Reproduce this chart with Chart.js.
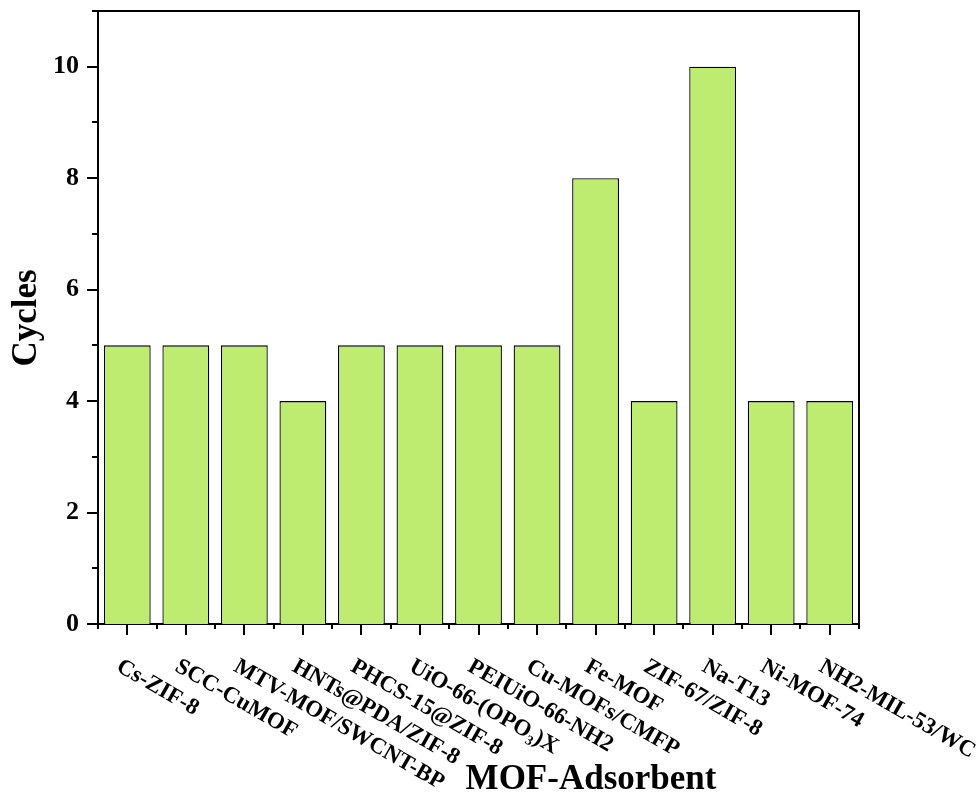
<!DOCTYPE html>
<html>
<head>
<meta charset="utf-8">
<script src="https://cdn.jsdelivr.net/npm/chart.js@4.4.0/dist/chart.umd.min.js"></script>
<style>
html,body{margin:0;padding:0;background:#fff;}
#wrap{width:978px;height:802px;}
</style>
</head>
<body>
<div id="wrap"><canvas id="c" width="978" height="802"></canvas></div>
<script>
const categories = ["Cs-ZIF-8","SCC-CuMOF","MTV-MOF/SWCNT-BP","HNTs@PDA/ZIF-8","PHCS-15@ZIF-8","UiO-66-(OPO\u2083)X","PEIUiO-66-NH2","Cu-MOFs/CMFP","Fe-MOF","ZIF-67/ZIF-8","Na-T13","Ni-MOF-74","NH2-MIL-53/WC"];
const cycles = [5,5,5,4,5,5,5,5,8,4,10,4,4];
const yTickLabels = ["0","2","4","6","8","10"];
const xTitle = "MOF-Adsorbent";
const yTitle = "Cycles";

const FONT = "'Liberation Serif','Times New Roman',serif";

const customPlugin = {
  id: 'custom',
  afterDraw(chart) {
    const ctx = chart.ctx;
    const a = chart.chartArea;
    const xs = chart.scales.x, ys = chart.scales.y;
    ctx.save();
    ctx.strokeStyle = '#000';
    ctx.fillStyle = '#000';
    // frame top & right
    ctx.lineWidth = 2;
    ctx.beginPath();
    ctx.moveTo(a.left - 1, a.top);
    ctx.lineTo(a.right, a.top);
    ctx.lineTo(a.right, a.bottom);
    ctx.stroke();
    // y ticks
    for (let v = ys.min; v <= ys.max; v++) {
      const y = Math.round(ys.getPixelForValue(v));
      const len = (v % 2 === 0) ? 11 : 6;
      ctx.beginPath();
      ctx.moveTo(a.left - len, y);
      ctx.lineTo(a.left, y);
      ctx.stroke();
    }
    // x ticks
    const n = categories.length;
    const step = (a.right - a.left) / n;
    for (let i = 0; i <= n; i++) {
      const x = Math.round(a.left + i * step);
      ctx.beginPath();
      ctx.moveTo(x, a.bottom);
      ctx.lineTo(x, a.bottom + 5);
      ctx.stroke();
    }
    for (let i = 0; i < n; i++) {
      const x = Math.round(xs.getPixelForValue(i));
      ctx.beginPath();
      ctx.moveTo(x, a.bottom);
      ctx.lineTo(x, a.bottom + 11);
      ctx.stroke();
    }
    // x labels rotated clockwise
    ctx.font = "bold 23px " + FONT;
    ctx.textAlign = 'left';
    ctx.textBaseline = 'middle';
    for (let i = 0; i < n; i++) {
      const x = xs.getPixelForValue(i);
      ctx.save();
      ctx.translate(x - 9, a.bottom + 41);
      ctx.rotate(30 * Math.PI / 180);
      ctx.fillText(categories[i], 0, 0);
      ctx.restore();
    }
    // titles
    ctx.font = "bold 35px " + FONT;
    ctx.textAlign = 'center';
    ctx.textBaseline = 'middle';
    ctx.fillText(xTitle, 591, 780);
    ctx.save();
    ctx.translate(27, 318);
    ctx.rotate(-Math.PI / 2);
    ctx.fillText(yTitle, 0, 0);
    ctx.restore();
    ctx.restore();
  }
};

new Chart(document.getElementById('c'), {
  type: 'bar',
  data: {
    labels: categories,
    datasets: [{
      data: cycles,
      backgroundColor: '#bdec71',
      borderColor: '#000',
      borderWidth: 1.3,
      barPercentage: 0.8,
      categoryPercentage: 1.0
    }]
  },
  options: {
    responsive: false,
    animation: false,
    devicePixelRatio: 1,
    layout: { padding: { left: 0, right: 119, top: 11, bottom: 0 } },
    plugins: { legend: { display: false }, tooltip: { enabled: false } },
    scales: {
      x: {
        grid: { display: false, drawTicks: false },
        border: { display: true, color: '#000', width: 2 },
        ticks: { display: false },
        afterFit(s) { s.height = 178; s.paddingLeft = 0; s.paddingRight = 0; }
      },
      y: {
        min: 0, max: 11,
        grid: { display: false, drawTicks: false },
        border: { display: true, color: '#000', width: 2 },
        ticks: {
          stepSize: 1,
          padding: 19,
          color: '#000',
          font: { family: FONT, size: 26, weight: 'bold' },
          callback(v) { const s = String(v); return yTickLabels.includes(s) ? s : ''; }
        },
        afterFit(s) { s.width = 98; s.paddingTop = 0; s.paddingBottom = 0; }
      }
    }
  },
  plugins: [customPlugin]
});
</script>
</body>
</html>
